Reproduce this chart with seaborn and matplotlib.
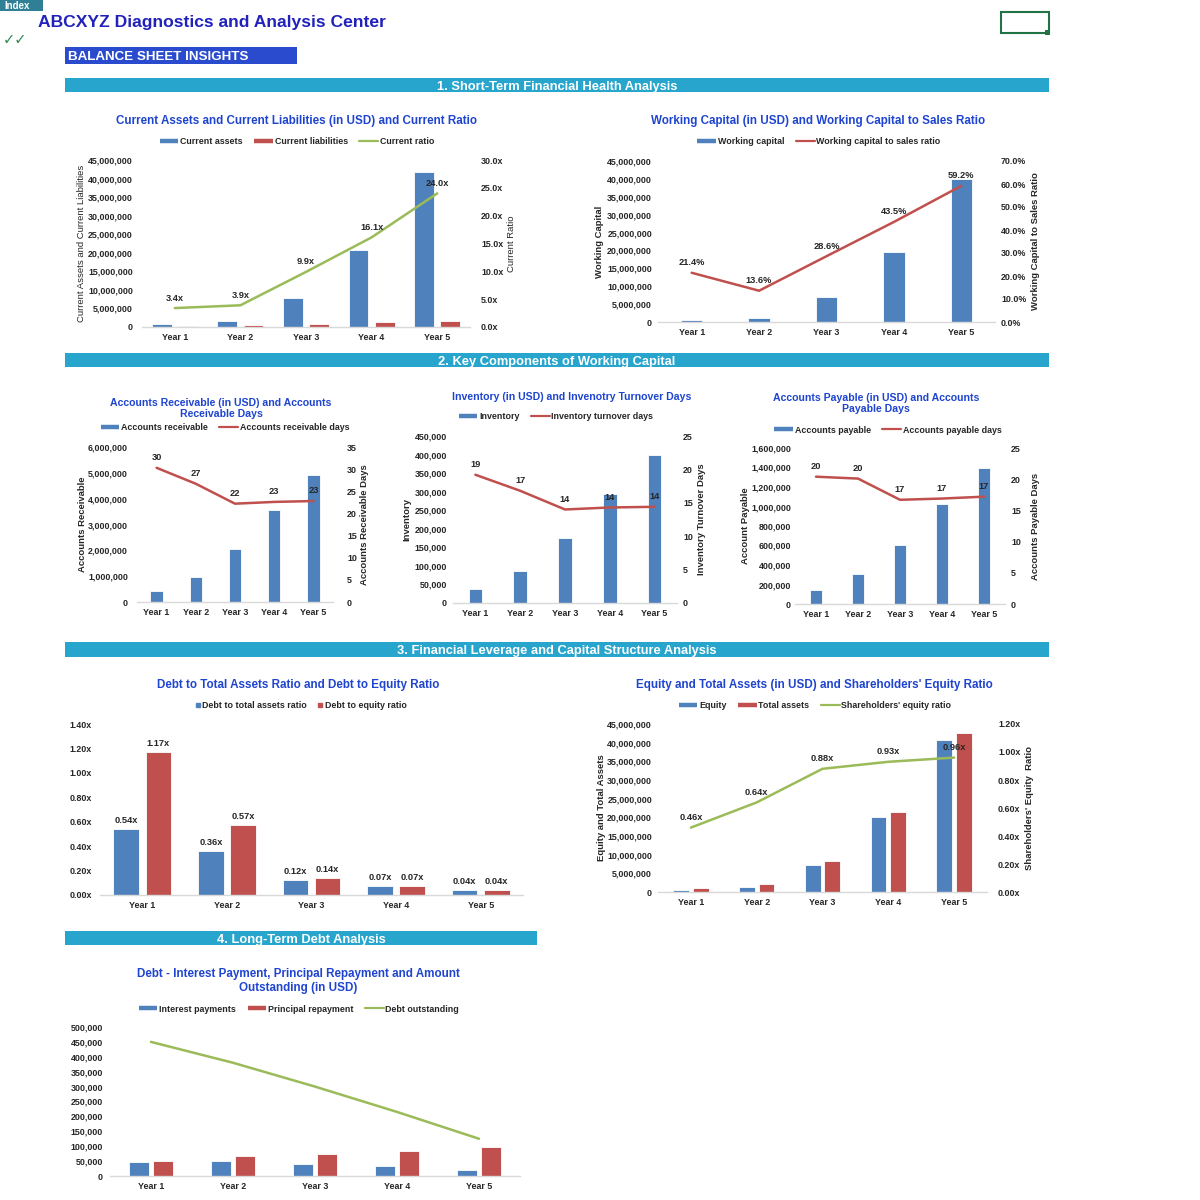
import numpy as np
import pandas as pd
import matplotlib
matplotlib.use("Agg")
import matplotlib.pyplot as plt
from matplotlib.patches import Rectangle
from matplotlib.lines import Line2D
from matplotlib.ticker import FuncFormatter, MultipleLocator
import seaborn as sns

# ---------------- data ----------------
years = ["Year 1", "Year 2", "Year 3", "Year 4", "Year 5"]

current_assets = [700000, 1600000, 7800000, 20800000, 41800000]
current_liabilities = [206000, 410000, 790000, 1290000, 1740000]
current_ratio = [3.4, 3.9, 9.9, 16.1, 24.0]

working_capital = [500000, 1200000, 7000000, 19500000, 40000000]
wc_to_sales = [21.4, 13.6, 28.6, 43.5, 59.2]

accounts_receivable = [420000, 970000, 2040000, 3560000, 4930000]
ar_days = [30.3, 26.7, 22.2, 22.6, 22.8]

inventory = [38000, 86000, 175000, 295000, 400000]
inventory_days = [19.2, 16.8, 14.0, 14.3, 14.4]

accounts_payable = [140000, 310000, 605000, 1030000, 1400000]
ap_days = [20.4, 20.1, 16.7, 16.9, 17.2]

debt_to_assets = [0.54, 0.36, 0.12, 0.07, 0.04]
debt_to_equity = [1.17, 0.57, 0.14, 0.07, 0.04]

equity = [480000, 1300000, 7200000, 20000000, 40800000]
total_assets = [1050000, 2050000, 8200000, 21400000, 42600000]
equity_ratio = [0.46, 0.64, 0.88, 0.93, 0.96]

interest_payments = [48000, 50000, 41000, 33000, 20000]
principal_repayment = [50000, 67000, 74000, 85000, 96000]
debt_outstanding = [450000, 380000, 300000, 215000, 125000]

# ---------------- style ----------------
sns.set_theme(style="white")
plt.rcParams["font.family"] = ["Liberation Sans", "DejaVu Sans"]
plt.rcParams["font.weight"] = "bold"

BLUE = "#4F81BD"
RED = "#C0504D"
GREEN = "#9BBB59"
TITLE_C = "#1F45D0"
TXT = "#262626"
TEAL = "#28A5CC"
FS = 6.4
TFS_BIG = 8.4
TFS_SMALL = 7.6

W, H = 1200, 1200
fig = plt.figure(figsize=(12, 12), dpi=100)
fig.patch.set_facecolor("white")


def fx(x):
    return x / W


def fy(y):
    return 1 - y / H


def rect(x0, y0, x1, y1, face, edge="none", lw=0, fill=True):
    fig.patches.append(Rectangle((fx(x0), fy(y1)), fx(x1 - x0), (y1 - y0) / H,
                                 transform=fig.transFigure, facecolor=face if fill else "none",
                                 edgecolor=edge, linewidth=lw, zorder=1))


def make_ax(x0, y0, x1, y1):
    return fig.add_axes([fx(x0), fy(y1), fx(x1 - x0), (y1 - y0) / H])


def style_ax(ax, lpad_px):
    for s in ["top", "right", "left"]:
        ax.spines[s].set_visible(False)
    ax.spines["bottom"].set_color("#D9D9D9")
    ax.spines["bottom"].set_linewidth(1.0)
    ax.tick_params(axis="y", length=0, pad=lpad_px * 0.72, labelsize=FS, labelcolor=TXT)
    ax.tick_params(axis="x", length=0, pad=4.5, labelsize=FS, labelcolor=TXT)
    for lab in ax.get_xticklabels() + ax.get_yticklabels():
        lab.set_fontweight("bold")
    ax.set_xlabel("")
    ax.set_ylabel("")
    ax.grid(False)
    ax.set_facecolor("none")


def style_right(ax2, rpad_px):
    for s in ["top", "left", "bottom", "right"]:
        ax2.spines[s].set_visible(False)
    ax2.tick_params(axis="y", length=0, pad=rpad_px * 0.72, labelsize=FS, labelcolor=TXT)
    for lab in ax2.get_yticklabels():
        lab.set_fontweight("bold")
    ax2.set_xlabel("")
    ax2.set_ylabel("")
    ax2.grid(False)


def set_label(ax, text, xpx, x0, x1, weight="bold", right=False):
    if right:
        ax.yaxis.set_label_position("right")
    ax.set_ylabel(text, fontsize=FS + 0.4, color=TXT, fontweight=weight)
    ax.yaxis.set_label_coords((xpx - x0) / (x1 - x0), 0.5)
    ax.yaxis.label.set_verticalalignment("center")
    ax.yaxis.label.set_horizontalalignment("center")
    ax.yaxis.label.set_rotation(90)


def title(text, xc, yc, size):
    fig.text(fx(xc), fy(yc), text, ha="center", va="center", fontsize=size,
             fontweight="bold", color=TITLE_C, linespacing=1.15)


def legend(ax, items, xc, yc, colsp=1.3):
    handles, labels = [], []
    for kind, color, lab in items:
        if kind == "bar":
            h = Line2D([], [], color=color, lw=3.2, solid_capstyle="butt")
        elif kind == "sq":
            h = Line2D([], [], color=color, marker="s", markersize=3.5, linestyle="none")
        else:
            h = Line2D([], [], color=color, lw=1.6)
        handles.append(h)
        labels.append(lab)
    leg = ax.legend(handles, labels, loc="center", bbox_to_anchor=(fx(xc), fy(yc)),
                    bbox_transform=fig.transFigure, ncol=len(items), frameon=False,
                    fontsize=FS, handlelength=2.1 if items[0][0] != "sq" else 0.6,
                    handletextpad=0.2, columnspacing=colsp, borderpad=0)
    for t in leg.get_texts():
        t.set_color(TXT)
        t.set_fontweight("bold")


def comma_fmt(v, p):
    return f"{int(round(v)):,}"


def grouped_bars(ax, s1, s2, n1, n2, width, gap):
    df = pd.DataFrame({"year": years * 2, "series": [n1] * 5 + [n2] * 5, "value": list(s1) + list(s2)})
    sns.barplot(data=df, x="year", y="value", hue="series", palette=[BLUE, RED],
                width=width, gap=gap, ax=ax, legend=False, edgecolor="white", linewidth=0.6,
                saturation=1)


def single_bars(ax, s, width):
    df = pd.DataFrame({"year": years, "value": s})
    sns.barplot(data=df, x="year", y="value", color=BLUE, width=width, ax=ax,
                edgecolor="white", linewidth=0.6, saturation=1)


def line(ax2, vals, color, labels_fmt=None, off=4):
    xs = np.arange(len(vals))
    sns.lineplot(x=xs, y=vals, ax=ax2, color=color, linewidth=1.8)
    if labels_fmt:
        for i, v in enumerate(vals):
            ax2.annotate(labels_fmt(v), (i, v), xytext=(0, off), textcoords="offset points",
                         ha="center", va="bottom", fontsize=FS + 0.3, fontweight="bold", color=TXT)


# ---------------- header ----------------
rect(0, 0, 43, 11, "#2F8096")
fig.text(fx(4), fy(9.3), "Index", ha="left", va="baseline", fontsize=7, fontweight="bold", color="white")
fig.text(fx(38), fy(27.3), "ABCXYZ Diagnostics and Analysis Center", ha="left", va="baseline",
         fontsize=12.6, fontweight="bold", color="#2222BB")
fig.text(fx(3), fy(40), "\u2713\u2713", ha="left", va="center", fontsize=10.5, color="#2E8B57",
         family=["DejaVu Sans"])
rect(1001, 12, 1049, 33, "none", edge="#217346", lw=1.5, fill=False)
rect(1045, 30, 1050, 35, "#217346")
rect(65, 47, 297, 64, "#2B4BCF")
fig.text(fx(68), fy(60.3), "BALANCE SHEET INSIGHTS", ha="left", va="baseline", fontsize=9.6,
         fontweight="bold", color="white")

sections = [(65, 78, 1049, 92, "1. Short-Term Financial Health Analysis"),
            (65, 353, 1049, 367, "2. Key Components of Working Capital"),
            (65, 642, 1049, 657, "3. Financial Leverage and Capital Structure Analysis"),
            (65, 931, 537, 945, "4. Long-Term Debt Analysis")]
for x0, y0, x1, y1, t in sections:
    rect(x0, y0, x1, y1, TEAL)
    fig.text(fx((x0 + x1) / 2), fy((y0 + y1) / 2 + 4.6), t, ha="center", va="baseline",
             fontsize=9.3, fontweight="bold", color="white")

# ---------------- chart 1 ----------------
X0, Y0, X1, Y1 = 142, 160, 470, 327
ax = make_ax(X0, Y0, X1, Y1)
grouped_bars(ax, current_assets, current_liabilities, "Current assets", "Current liabilities", 0.8, 0.25)
ax.set_ylim(0, 45000000)
ax.yaxis.set_major_locator(MultipleLocator(5000000))
ax.yaxis.set_major_formatter(FuncFormatter(comma_fmt))
ax2 = ax.twinx()
line(ax2, current_ratio, GREEN, lambda v: f"{v:.1f}x")
ax2.set_ylim(0, 30)
ax2.yaxis.set_major_locator(MultipleLocator(5))
ax2.yaxis.set_major_formatter(FuncFormatter(lambda v, p: f"{v:.1f}x"))
ax.set_xlim(-0.5, 4.5)
style_ax(ax, 9)
style_right(ax2, 11)
set_label(ax, "Current Assets and Current Liabilities", 82, X0, X1, weight="normal")
set_label(ax2, "Current Ratio", 511, X0, X1, weight="normal", right=True)
title("Current Assets and Current Liabilities (in USD) and Current Ratio", 296, 121, TFS_BIG)
legend(ax2, [("bar", BLUE, "Current assets"), ("bar", RED, "Current liabilities"),
             ("line", GREEN, "Current ratio")], 297, 142)

# ---------------- chart 2 ----------------
X0, Y0, X1, Y1 = 658, 161, 995, 322
ax = make_ax(X0, Y0, X1, Y1)
single_bars(ax, working_capital, 0.32)
ax.set_ylim(0, 45000000)
ax.yaxis.set_major_locator(MultipleLocator(5000000))
ax.yaxis.set_major_formatter(FuncFormatter(comma_fmt))
ax2 = ax.twinx()
line(ax2, wc_to_sales, RED, lambda v: f"{v:.1f}%")
ax2.set_ylim(0, 70)
ax2.yaxis.set_major_locator(MultipleLocator(10))
ax2.yaxis.set_major_formatter(FuncFormatter(lambda v, p: f"{v:.1f}%"))
ax.set_xlim(-0.5, 4.5)
style_ax(ax, 6)
style_right(ax2, 6)
set_label(ax, "Working Capital", 600, X0, X1)
set_label(ax2, "Working Capital to Sales Ratio", 1035, X0, X1, right=True)
title("Working Capital (in USD) and Working Capital to Sales Ratio", 818, 121, TFS_BIG)
legend(ax2, [("bar", BLUE, "Working capital"), ("line", RED, "Working capital to sales ratio")], 819, 142)

# ---------------- chart 3 ----------------
X0, Y0, X1, Y1 = 137, 447, 333, 602
ax = make_ax(X0, Y0, X1, Y1)
single_bars(ax, accounts_receivable, 0.32)
ax.set_ylim(0, 6000000)
ax.yaxis.set_major_locator(MultipleLocator(1000000))
ax.yaxis.set_major_formatter(FuncFormatter(comma_fmt))
ax2 = ax.twinx()
line(ax2, ar_days, RED, lambda v: f"{v:.0f}")
ax2.set_ylim(0, 35)
ax2.yaxis.set_major_locator(MultipleLocator(5))
ax2.yaxis.set_major_formatter(FuncFormatter(lambda v, p: f"{v:.0f}"))
ax.set_xlim(-0.5, 4.5)
style_ax(ax, 9)
style_right(ax2, 14)
set_label(ax, "Accounts Receivable", 82, X0, X1)
set_label(ax2, "Accounts Receivable Days", 365, X0, X1, right=True)
title("Accounts Receivable (in USD) and Accounts\nReceivable Days", 221, 408.5, TFS_SMALL)
legend(ax2, [("bar", BLUE, "Accounts receivable"), ("line", RED, "Accounts receivable days")], 225, 428)

# ---------------- chart 4 ----------------
X0, Y0, X1, Y1 = 453, 436, 677, 603
ax = make_ax(X0, Y0, X1, Y1)
single_bars(ax, inventory, 0.3)
ax.set_ylim(0, 450000)
ax.yaxis.set_major_locator(MultipleLocator(50000))
ax.yaxis.set_major_formatter(FuncFormatter(comma_fmt))
ax2 = ax.twinx()
line(ax2, inventory_days, RED, lambda v: f"{v:.0f}")
ax2.set_ylim(0, 25)
ax2.yaxis.set_major_locator(MultipleLocator(5))
ax2.yaxis.set_major_formatter(FuncFormatter(lambda v, p: f"{v:.0f}"))
ax.set_xlim(-0.5, 4.5)
style_ax(ax, 6)
style_right(ax2, 6)
set_label(ax, "Inventory", 407, X0, X1)
set_label(ax2, "Inventory Turnover Days", 702, X0, X1, right=True)
title("Inventory (in USD) and Invenotry Turnover Days", 572, 397, TFS_SMALL)
legend(ax2, [("bar", BLUE, "Inventory"), ("line", RED, "Inventory turnover days")], 556, 417)

# ---------------- chart 5 ----------------
X0, Y0, X1, Y1 = 795, 448, 1005, 604
ax = make_ax(X0, Y0, X1, Y1)
single_bars(ax, accounts_payable, 0.3)
ax.set_ylim(0, 1600000)
ax.yaxis.set_major_locator(MultipleLocator(200000))
ax.yaxis.set_major_formatter(FuncFormatter(comma_fmt))
ax2 = ax.twinx()
line(ax2, ap_days, RED, lambda v: f"{v:.0f}")
ax2.set_ylim(0, 25)
ax2.yaxis.set_major_locator(MultipleLocator(5))
ax2.yaxis.set_major_formatter(FuncFormatter(lambda v, p: f"{v:.0f}"))
ax.set_xlim(-0.5, 4.5)
style_ax(ax, 4)
style_right(ax2, 6)
set_label(ax, "Account Payable", 745, X0, X1)
set_label(ax2, "Accounts Payable Days", 1036, X0, X1, right=True)
title("Accounts Payable (in USD) and Accounts\nPayable Days", 876, 403.5, TFS_SMALL)
legend(ax2, [("bar", BLUE, "Accounts payable"), ("line", RED, "Accounts payable days")], 888, 430)

# ---------------- chart 6 ----------------
X0, Y0, X1, Y1 = 100, 724, 523, 895
ax = make_ax(X0, Y0, X1, Y1)
grouped_bars(ax, debt_to_assets, debt_to_equity, "Debt to total assets ratio", "Debt to equity ratio", 0.76, 0.2)
ax.set_ylim(0, 1.4)
ax.yaxis.set_major_locator(MultipleLocator(0.2))
ax.yaxis.set_major_formatter(FuncFormatter(lambda v, p: f"{v:.2f}x"))
ax.set_xlim(-0.5, 4.5)
for cont in ax.containers:
    ax.bar_label(cont, labels=[f"{v:.2f}x" for v in cont.datavalues], padding=3,
                 fontsize=FS + 0.3, fontweight="bold", color=TXT)
style_ax(ax, 8)
title("Debt to Total Assets Ratio and Debt to Equity Ratio", 298, 685, TFS_BIG)
legend(ax, [("sq", BLUE, "Debt to total assets ratio"), ("sq", RED, "Debt to equity ratio")], 301, 706, colsp=1.2)

# ---------------- chart 7 ----------------
X0, Y0, X1, Y1 = 658, 724, 987, 892
ax = make_ax(X0, Y0, X1, Y1)
grouped_bars(ax, equity, total_assets, "Equity", "Total assets", 0.6, 0.2)
ax.set_ylim(0, 45000000)
ax.yaxis.set_major_locator(MultipleLocator(5000000))
ax.yaxis.set_major_formatter(FuncFormatter(comma_fmt))
ax2 = ax.twinx()
line(ax2, equity_ratio, GREEN, lambda v: f"{v:.2f}x")
ax2.set_ylim(0, 1.2)
ax2.yaxis.set_major_locator(MultipleLocator(0.2))
ax2.yaxis.set_major_formatter(FuncFormatter(lambda v, p: f"{v:.2f}x"))
ax.set_xlim(-0.5, 4.5)
style_ax(ax, 6)
style_right(ax2, 11)
set_label(ax, "Equity and Total Assets", 601, X0, X1)
set_label(ax2, "Shareholders' Equity  Ratio", 1029, X0, X1, right=True)
title("Equity and Total Assets (in USD) and Shareholders' Equity Ratio", 814, 685, TFS_BIG)
legend(ax2, [("bar", BLUE, "Equity"), ("bar", RED, "Total assets"),
             ("line", GREEN, "Shareholders' equity ratio")], 815, 706)

# ---------------- chart 8 ----------------
X0, Y0, X1, Y1 = 110, 1027, 520, 1176
ax = make_ax(X0, Y0, X1, Y1)
grouped_bars(ax, interest_payments, principal_repayment, "Interest payments", "Principal repayment", 0.6, 0.2)
line(ax, debt_outstanding, GREEN)
ax.set_ylim(0, 500000)
ax.yaxis.set_major_locator(MultipleLocator(50000))
ax.yaxis.set_major_formatter(FuncFormatter(comma_fmt))
ax.set_xlim(-0.5, 4.5)
style_ax(ax, 7)
title("Debt - Interest Payment, Principal Repayment and Amount\nOutstanding (in USD)", 298, 981, TFS_BIG)
legend(ax, [("bar", BLUE, "Interest payments"), ("bar", RED, "Principal repayment"),
            ("line", GREEN, "Debt outstanding")], 299, 1009)

fig.savefig("out.png", dpi=100, facecolor="white")
